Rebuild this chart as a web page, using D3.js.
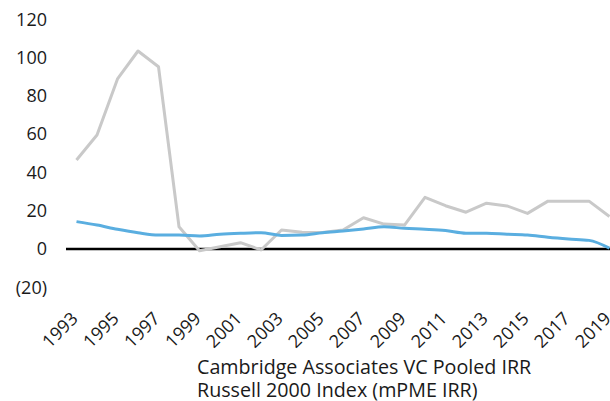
<!DOCTYPE html>
<html><head><meta charset="utf-8">
<script src="https://cdn.jsdelivr.net/npm/d3@7"></script>
<style>html,body{margin:0;padding:0;background:#fff;overflow:hidden}</style>
</head><body>
<svg id="chart" width="610" height="401"></svg>
<script>
const years = [1993,1994,1995,1996,1997,1998,1999,2000,2001,2002,2003,2004,2005,2006,2007,2008,2009,2010,2011,2012,2013,2014,2015,2016,2017,2018,2019];
const vcIRR = [46.5,59.5,88.8,103.4,95.2,11.6,-0.9,1.2,3.3,-0.5,9.9,8.7,8.6,9.9,16.3,13.0,12.5,27.0,22.6,19.2,23.9,22.5,18.6,25.0,25.0,25.0,17.0];
const russellIRR = [14.3,12.5,10.3,8.5,7.3,7.3,6.8,7.7,8.2,8.5,7.1,7.3,8.5,9.4,10.4,11.6,10.8,10.3,9.6,8.2,8.2,7.7,7.3,6.1,5.2,4.5,0.4];
const yTicks = [-20,0,20,40,60,80,100,120];
const xTickLabels = [1993,1995,1997,1999,2001,2003,2005,2007,2009,2011,2013,2015,2017,2019];
const seriesNames = ["Cambridge Associates VC Pooled IRR","Russell 2000 Index (mPME IRR)"];

const svg = d3.select("#chart");
const font = "'Open Sans', sans-serif";
const x = d3.scalePoint().domain(years).range([76.5, 609.5]);
const y = d3.scaleLinear().domain([-20,120]).range([287.3, 19.2]);

// y tick labels
svg.append("g").selectAll("text").data(yTicks).join("text")
  .attr("x", 47).attr("y", d => y(d)).attr("dy", "0.35em")
  .attr("text-anchor", "end").attr("font-family", font).attr("font-size", 18)
  .attr("fill", "#1a1a1a")
  .text(d => d < 0 ? "(" + Math.abs(d) + ")" : d);

// zero line
svg.append("line").attr("x1", 66).attr("x2", 610).attr("y1", y(0)).attr("y2", y(0))
  .attr("stroke", "#000").attr("stroke-width", 2.5);

// x tick labels
svg.append("g").selectAll("text").data(xTickLabels).join("text")
  .attr("transform", d => `translate(${x(d)-2},${y(-20)+28}) rotate(-45)`)
  .attr("text-anchor", "end").attr("dy", "0.35em")
  .attr("font-family", font).attr("font-size", 18).attr("fill", "#1a1a1a")
  .text(d => d);

const lineLin = d3.line().x((d,i) => x(years[i])).y(d => y(d));
const lineSmooth = d3.line().x((d,i) => x(years[i])).y(d => y(d)).curve(d3.curveMonotoneX);

svg.append("path").attr("d", lineLin(vcIRR)).attr("fill", "none")
  .attr("stroke", "#c9c9c9").attr("stroke-width", 3).attr("stroke-linejoin", "round");
svg.append("path").attr("d", lineSmooth(russellIRR)).attr("fill", "none")
  .attr("stroke", "#5aaee0").attr("stroke-width", 3).attr("stroke-linejoin", "round");

// legend
svg.append("g").selectAll("text").data(seriesNames).join("text")
  .attr("x", 197).attr("y", (d,i) => 374 + i*23)
  .attr("font-family", font).attr("font-size", 19.7).attr("fill", "#1a1a1a")
  .text(d => d);
</script>
</body></html>
